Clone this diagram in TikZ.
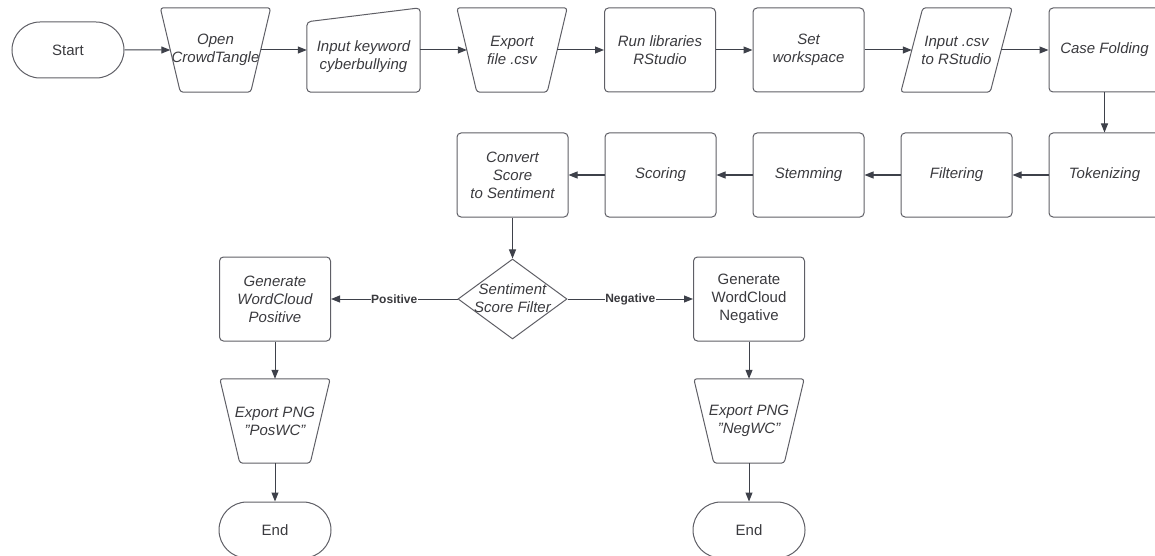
\documentclass[tikz,border=0pt]{standalone}
\usepackage{fontspec}
\setmainfont{Liberation Sans}
\usetikzlibrary{shapes.geometric,shapes.misc,arrows.meta}
\definecolor{edgec}{RGB}{95,95,102}
\definecolor{linec}{RGB}{62,65,74}
\definecolor{txtc}{RGB}{58,58,62}
\begin{document}
\begin{tikzpicture}[x=1pt,y=-1pt,
  base/.style={draw=edgec, line width=1pt, text=txtc, align=center, inner sep=0pt,
    font=\fontsize{15}{18}\selectfont\itshape},
  proc/.style={base, rectangle, rounded corners=4pt, minimum width=111pt, minimum height=84pt},
  term/.style={base, rounded rectangle, minimum width=112pt, minimum height=56pt,
    font=\fontsize{15}{18}\selectfont},
  ghost/.style={text=txtc, align=center, inner sep=0pt, rectangle,
    font=\fontsize{15}{18}\selectfont\itshape, minimum width=110pt, minimum height=84pt},
  outline/.style={draw=edgec, line width=1pt, rounded corners=3pt},
  dec/.style={base, diamond, minimum width=109pt, minimum height=80pt},
  inner/.style={text=txtc, align=center, inner sep=0pt, font=\fontsize{15}{18}\selectfont\itshape},
  arr/.style={-{Triangle[length=9pt,width=7pt]}, draw=linec, line width=1pt},
  lab/.style={font=\fontsize{12}{14}\selectfont\bfseries, text=txtc, fill=white, inner sep=0.5pt}
]
\useasboundingbox (0,0) rectangle (1155,556);
\clip (0,0) rectangle (1155,556);

% row 1
\node[term] (start) at (68,50) {Start};
\node[ghost] (open) at (215.5,50) {Open\\CrowdTangle};
\draw[outline] (open.north west) -- (open.north east) -- ([xshift=-20pt]open.south east)
  -- ([xshift=20pt]open.south west) -- cycle;
\node[ghost, minimum width=113pt] (kw) at (363.5,50) {};
\node[inner] (kwtxt) at (363.5,57) {Input keyword\\cyberbullying};
\draw[outline, rounded corners=4pt]
  (kw.south west) -- ([yshift=-14pt]kw.north west) -- (kw.north east) -- (kw.south east) -- cycle;
\node[ghost] (exp) at (512,50) {Export\\file .csv};
\draw[outline] (exp.north west) -- (exp.north east) -- ([xshift=-20pt]exp.south east)
  -- ([xshift=20pt]exp.south west) -- cycle;
\node[proc] (run) at (660,50) {Run libraries\\RStudio};
\node[proc] (set) at (808.5,50) {Set\\workspace};
\node[ghost, minimum width=111pt] (incsv) at (956.5,50) {Input .csv\\to RStudio};
\draw[outline] ([xshift=22pt]incsv.north west) -- (incsv.north east)
  -- ([xshift=-22pt]incsv.south east) -- (incsv.south west) -- cycle;
\node[proc] (case) at (1104.5,50) {Case Folding};

% row 2
\node[proc] (tok) at (1104.5,175) {Tokenizing};
\node[proc] (filt) at (956.5,175) {Filtering};
\node[proc] (stem) at (808.5,175) {Stemming};
\node[proc] (score) at (660.5,175) {Scoring};
\node[proc] (conv) at (512.5,175) {Convert\\Score\\to Sentiment};

% row 3
\node[dec] (filter) at (512.5,299) {};
\node[inner] (filtertxt) at (512.5,298) {Sentiment\\Score Filter};
\node[proc] (genpos) at (275,299) {Generate\\WordCloud\\Positive};
\node[proc, font=\fontsize{15}{18}\selectfont] (genneg) at (749,299) {Generate\\WordCloud\\Negative};

\node[ghost] (pngpos) at (275,421) {Export PNG\\"PosWC"};
\draw[outline] (pngpos.north west) -- (pngpos.north east) -- ([xshift=-20pt]pngpos.south east)
  -- ([xshift=20pt]pngpos.south west) -- cycle;
\node[ghost] (pngneg) at (749,421) {Export PNG\\"NegWC"};
\draw[outline] (pngneg.north west) -- (pngneg.north east) -- ([xshift=-20pt]pngneg.south east)
  -- ([xshift=20pt]pngneg.south west) -- cycle;
\node[term] (endpos) at (275,530) {End};
\node[term] (endneg) at (749,530) {End};

% connectors
\draw[arr] (start) -- ([xshift=10pt]open.west);
\draw[arr] ([xshift=-10pt]open.east) -- (kw);
\draw[arr] (kw) -- ([xshift=10pt]exp.west);
\draw[arr] ([xshift=-10pt]exp.east) -- (run);
\draw[arr] (run) -- (set);
\draw[arr] (set) -- ([xshift=11pt]incsv.west);
\draw[arr] ([xshift=-11pt]incsv.east) -- (case);
\draw[arr] (case) -- (tok);
\draw[arr] (tok) -- (filt);
\draw[arr] (filt) -- (stem);
\draw[arr] (stem) -- (score);
\draw[arr] (score) -- (conv);
\draw[arr] (conv) -- (filter);
\draw[arr] (filter) -- node[lab] {Positive} (genpos);
\draw[arr] (filter) -- node[lab] {Negative} (genneg);
\draw[arr] (genpos) -- (pngpos);
\draw[arr] (pngpos) -- (endpos);
\draw[arr] (genneg) -- (pngneg);
\draw[arr] (pngneg) -- (endneg);
\end{tikzpicture}
\end{document}
